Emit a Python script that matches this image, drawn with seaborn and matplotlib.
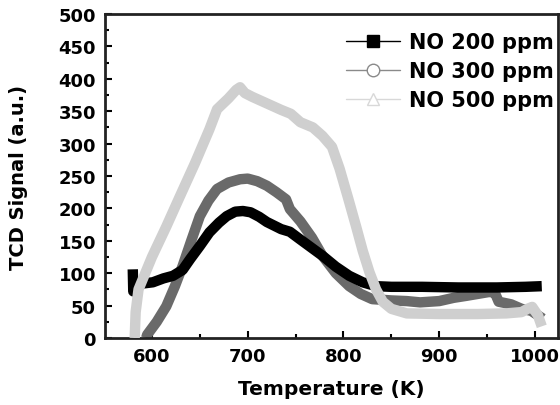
import pandas as pd
import seaborn as sns
import matplotlib.pyplot as plt
from matplotlib.lines import Line2D
from matplotlib.ticker import MultipleLocator

# TCD signal vs temperature
temp_200 = [580, 580.5, 584, 590, 601, 612, 622, 632, 640, 650, 660, 670, 678, 687, 695,
            703, 712, 720, 735, 744, 754, 766, 778, 792, 806, 820, 834, 850, 882, 920,
            960, 990, 1007]
sig_200 = [106, 72, 80, 84, 86, 92, 96, 105, 122, 142, 163, 178, 188, 195, 196,
           194, 187, 179, 168, 164, 153, 140, 127, 110, 96, 86, 80, 79, 79, 78,
           78, 79, 80]

temp_300 = [594, 595, 605, 615, 624, 632, 641, 650, 659, 668, 680, 692, 700, 710, 720,
            730, 740, 744, 755, 767, 778, 792, 806, 818, 830, 850, 866, 880, 900, 915,
            928, 940, 952, 958, 962, 975, 986, 996, 1004, 1008]
sig_300 = [0, 5, 25, 49, 80, 111, 150, 188, 212, 230, 240, 245, 246, 242, 235,
           225, 214, 199, 180, 155, 127, 100, 80, 68, 60, 58, 57, 55, 57, 62,
           65, 68, 71, 70, 56, 52, 45, 42, 34, 30]

temp_500 = [582, 583, 586, 600, 615, 629, 645, 660, 668, 680, 688, 692, 697, 705, 720,
            735, 745, 755, 768, 778, 788, 796, 805, 813, 820, 827, 834, 841, 850, 866,
            900, 940, 970, 986, 992, 997, 1003, 1007]
sig_500 = [0, 40, 75, 125, 172, 218, 270, 322, 353, 370, 383, 387, 378, 372, 362,
           352, 346, 333, 325, 312, 295, 261, 215, 173, 135, 102, 75, 56, 45, 38,
           37, 37, 38, 40, 45, 48, 35, 18]

labels = ['NO 200 ppm', 'NO 300 ppm', 'NO 500 ppm']
colors = ['#000000', '#6a6a6a', '#cfcfcf']

df = pd.concat([
    pd.DataFrame({'T': temp_200, 'signal': sig_200, 'series': labels[0]}),
    pd.DataFrame({'T': temp_300, 'signal': sig_300, 'series': labels[1]}),
    pd.DataFrame({'T': temp_500, 'signal': sig_500, 'series': labels[2]}),
])

sns.set_style('ticks')
plt.rcParams['font.family'] = ['DejaVu Sans']
plt.rcParams['font.weight'] = 'bold'
plt.rcParams['text.color'] = 'black'
plt.rcParams['axes.labelcolor'] = 'black'
plt.rcParams['xtick.color'] = 'black'
plt.rcParams['ytick.color'] = 'black'

fig = plt.figure(figsize=(5.6, 4.06), dpi=100)
ax = fig.add_axes([0.1875, 0.165, 0.809, 0.798])

sns.lineplot(data=df, x='T', y='signal', hue='series', palette=colors,
             hue_order=labels, linewidth=7.5, sort=False, estimator=None,
             legend=False, ax=ax)
# light grey drawn on top like the reference
for line, z in zip(ax.lines, [3, 2, 4]):
    line.set_zorder(z)
    line.set_solid_capstyle('butt')

ax.set_xlim(551, 1024)
ax.set_ylim(0, 500)
ax.xaxis.set_major_locator(MultipleLocator(100))
ax.xaxis.set_minor_locator(MultipleLocator(50))
ax.yaxis.set_major_locator(MultipleLocator(50))
ax.yaxis.set_minor_locator(MultipleLocator(25))
ax.tick_params(which='both', direction='in', top=False, right=False,
               labelsize=13, width=1.5, pad=6.5)
ax.tick_params(which='major', length=5)
ax.tick_params(which='minor', length=3)
for lab in ax.get_xticklabels() + ax.get_yticklabels():
    lab.set_fontweight('bold')
for sp in ax.spines.values():
    sp.set_visible(True)
    sp.set_linewidth(2)
    sp.set_color('#222222')

ax.set_xlabel('Temperature (K)', fontsize=14.5, fontweight='bold', labelpad=10)
ax.set_ylabel('TCD Signal (a.u.)', fontsize=14, fontweight='bold', labelpad=22)

handles = [
    Line2D([], [], color=colors[0], lw=1, marker='s', markersize=9,
           markerfacecolor=colors[0]),
    Line2D([], [], color='#8a8a8a', lw=1, marker='o', markersize=9,
           markerfacecolor='white'),
    Line2D([], [], color='#d8d8d8', lw=1, marker='^', markersize=9,
           markerfacecolor='white'),
]
ax.legend(handles, labels, loc='upper right', bbox_to_anchor=(0.995, 0.95),
          frameon=False, handlelength=2.6, handletextpad=0.4,
          labelspacing=0.42, borderaxespad=0, borderpad=0.1,
          prop={'weight': 'bold', 'size': 15})

fig.savefig('out.png', dpi=100)
